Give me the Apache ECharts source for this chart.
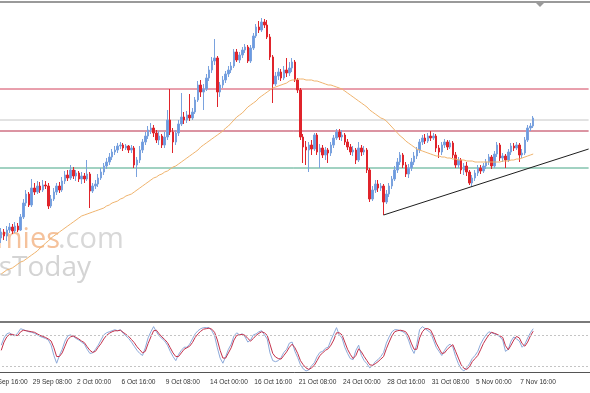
<!DOCTYPE html>
<html><head><meta charset="utf-8">
<script src="https://cdn.jsdelivr.net/npm/echarts@6/dist/echarts.min.js"></script>
<style>html,body{margin:0;padding:0;background:#fff}#c{width:590px;height:393px}</style>
</head><body><div id="c"></div>
<script>
// ---------- DATA ----------
const tickLabels = ['26 Sep 16:00','29 Sep 08:00','2 Oct 00:00','6 Oct 16:00','9 Oct 08:00','14 Oct 00:00','16 Oct 16:00','21 Oct 08:00','24 Oct 00:00','28 Oct 16:00','31 Oct 08:00','5 Nov 00:00','7 Nov 16:00'];
const barsPerLabel = 16;   // H4 bars between time labels
const leadBars = 5;        // bars between the first label and the first visible candle
const emptyBarsRight = 20; // empty bars (chart shift) on the right

// H4 candles: [open, close, low, high]
const ohlc = [
[62,68,57,72],[68,64,60,71],[64,70,59,74],[70,73,67,77],[73,69,66,76],[69,74,67,78],[74,70,68,77],[70,83,69,86],[83,97,81,101],[97,106,94,110],
[106,95,93,108],[95,112,93,121],[112,108,105,117],[108,114,106,119],[114,110,107,118],[110,115,108,120],[115,114,111,119],[114,94,91,117],[94,101,92,105],[101,108,99,112],
[108,114,105,117],[114,110,107,118],[110,119,108,123],[119,125,116,129],[125,122,119,130],[122,130,120,135],[130,124,121,133],[124,127,119,130],[127,121,118,129],[121,124,116,128],
[124,121,117,127],[121,126,119,140],[126,109,92,128],[109,114,107,117],[114,116,111,120],[116,122,113,126],[122,128,120,132],[128,134,125,137],[134,138,131,142],[138,143,135,147],
[143,148,140,151],[148,150,145,154],[150,154,147,157],[154,155,151,158],[155,152,149,157],[152,154,150,156],[154,150,147,155],[150,152,147,155],[152,135,132,154],[135,140,123,143],
[140,150,137,154],[150,158,147,161],[158,164,155,168],[164,170,161,174],[170,172,166,177],[172,167,163,175],[167,160,157,170],[160,164,155,169],[164,155,152,166],[155,163,152,168],
[163,180,160,190],[180,168,165,211],[168,158,147,172],[158,167,155,170],[167,176,164,180],[176,183,174,207],[183,180,176,188],[180,185,177,189],[185,182,179,206],[182,188,180,192],
[188,200,186,203],[200,215,198,219],[215,208,203,220],[208,211,190,216],[211,222,209,226],[222,230,219,234],[230,239,227,243],[239,242,235,261],[242,208,193,244],[208,215,203,218],
[215,220,212,224],[220,226,217,229],[226,230,223,234],[230,234,227,238],[234,248,232,251],[248,240,238,251],[240,245,237,248],[245,250,242,253],[250,253,247,256],[253,239,237,255],
[239,252,237,255],[252,264,250,267],[264,273,262,276],[273,270,267,279],[270,278,268,282],[278,275,272,281],[275,263,261,280],[263,243,240,266],[243,216,197,245],[216,224,214,228],
[224,228,220,232],[228,222,219,231],[222,230,220,234],[230,227,223,242],[227,232,224,238],[232,238,228,242],[238,220,218,240],[220,210,207,222],[210,163,160,212],[163,153,137,166],
[153,150,135,159],[150,155,128,158],[155,151,145,160],[151,165,149,167],[165,148,145,167],[148,152,132,156],[152,145,142,155],[145,150,140,153],[150,147,137,152],[147,155,144,158],
[155,162,152,165],[162,168,160,171],[168,163,160,171],[163,165,159,170],[165,158,155,167],[158,153,150,161],[153,148,145,156],[148,150,144,154],[150,140,136,152],[140,152,138,158],
[152,148,144,155],[148,150,145,154],[150,130,127,152],[130,101,98,132],[101,110,99,114],[110,116,107,120],[116,112,108,120],[112,114,109,117],[114,98,85,116],[98,106,96,110],
[106,114,103,117],[114,121,111,124],[121,130,119,134],[130,138,127,142],[138,145,135,148],[145,135,132,147],[135,126,123,138],[126,132,122,136],[132,138,129,142],[138,144,135,148],
[144,150,141,153],[150,158,147,161],[158,162,155,165],[162,159,156,166],[159,164,157,167],[164,162,159,169],[162,164,160,167],[164,152,148,166],[152,148,142,155],[148,155,145,158],
[155,158,152,161],[158,153,150,160],[153,157,151,160],[157,145,142,159],[145,135,132,148],[135,140,132,143],[140,130,126,142],[130,134,125,137],[134,128,124,138],[128,117,115,130],
[117,122,113,125],[122,127,119,130],[127,132,124,135],[132,129,126,135],[129,134,127,137],[134,138,131,141],[138,143,135,146],[143,134,131,145],[134,146,132,149],[146,155,143,158],
[155,142,139,157],[142,144,138,147],[144,140,132,146],[140,148,138,151],[148,154,145,157],[154,152,149,157],[152,155,150,158],[155,145,138,157],[145,147,142,151],[147,160,145,163],
[160,172,158,175],[172,174,169,177],[174,182,172,184]
];

// moving average, one value per candle
const ma = [
26,28,30,31,32,34,36,38,39,41, 43,45,47,49,52,54,57,59,62,64,
66,68,70,72,74,76,78,80,82,84, 85,86,87,88,89,90,91,92,94,95,
97,98,99,101,102,104,105,106,108,110, 112,114,116,118,120,122,123,125,126,128,
129,131,133,134,136,138,140,142,144,146, 148,150,153,155,157,159,161,163,165,167,
169,172,174,177,180,183,185,187,190,193, 195,197,199,202,204,206,208,210,212,213,
214,215,216,217,219,220,220,221,221,221, 220,220,220,219,219,218,217,216,215,215,
214,213,212,211,209,207,205,203,201,199, 197,195,193,190,188,186,184,182,181,179,
176,173,170,167,164,162,159,157,155,153, 151,150,149,148,147,146,145,144,144,143,
143,142,142,141,141,140,140,140,139,139, 139,138,138,138,138,138,138,138,138,138,
138,139,139,139,140,140,141,141,142,143, 144,145,146
];

// stochastic oscillator %K and %D
const stochK = [
60,74,82,84,80,78,84,92,90,88, 86,85,83,80,77,75,73,70,60,40,
25,40,52,68,78,80,77,73,70,66, 62,52,44,45,52,60,70,80,84,86,
88,90,88,90,83,78,73,66,58,50, 44,40,55,74,86,96,86,78,73,68,
60,48,38,30,42,50,56,56,62,72, 82,88,92,94,94,94,88,78,55,35,
25,38,52,62,78,84,80,82,76,66, 70,80,82,86,88,80,72,45,30,28,
30,36,46,52,64,66,48,36,22,14, 10,12,20,26,38,46,48,54,56,70,
82,94,80,74,56,44,34,32,50,60, 40,30,24,16,20,28,32,38,46,64,
76,86,90,90,88,86,82,70,54,44, 62,90,96,92,88,84,70,56,48,40,
50,58,62,56,38,24,14,10,16,24, 34,40,48,62,72,80,86,84,82,80,
76,70,48,52,68,76,72,68,56,62, 74,84,92
];
const stochD = [
50,66,76,81,81,79,79,86,89,88, 87,86,85,82,79,77,75,72,68,55,
38,38,45,58,71,76,78,75,72,68, 65,57,50,46,48,56,63,72,79,83,
86,88,88,89,85,81,77,71,65,57, 51,45,48,63,76,88,89,82,76,71,
65,55,45,38,38,45,52,55,58,65, 75,82,87,91,92,93,91,85,70,50,
35,35,45,55,70,79,80,81,79,73, 68,73,79,83,86,84,79,62,44,37,
34,33,40,47,56,62,55,44,30,22, 16,13,16,21,30,40,45,50,53,60,
70,84,84,80,66,52,42,34,40,53, 47,38,30,22,21,24,28,33,38,53,
66,78,86,88,89,88,86,78,64,52, 52,74,86,92,92,89,78,64,54,44,
45,52,57,61,48,35,22,15,13,18, 28,34,40,51,63,72,80,85,83,81,
78,75,59,51,60,70,77,74,63,58, 66,78,87
];
const stochLevels = [80, 20];

// horizontal price levels (top red, grey, lower red, green)
const levelPrices = [211, 180, 169, 132];
// trend line anchors: [candle index, price]
const trendLine = [[138, 85], [212, 151]];

// ---------- CHART ----------
const N = leadBars + ohlc.length + emptyBarsRight;
const cats = Array.from({length: N}, (_, k) => String(k));
const levelColors = ['#d2405a', '#c6c6c6', '#b82a46', '#45a585'];
const chart = echarts.init(document.getElementById('c'), null, {renderer: 'canvas'});
const font = "'Liberation Sans', Arial, sans-serif";

const levelSeries = levelPrices.map((p, k) => ({
  type: 'line', xAxisIndex: 0, yAxisIndex: 0, symbol: 'none', z: 1, silent: true,
  color: levelColors[k],
  itemStyle: {color: levelColors[k]},
  lineStyle: {color: levelColors[k], width: 1, type: 'solid'},
  data: [[0, p], [N - 1, p]]
}));

chart.setOption({
  animation: false,
  backgroundColor: '#ffffff',
  grid: [
    {left: -14, right: 0, top: 3, height: 317, outerBoundsMode: 'none', containLabel: false},
    {left: -14, right: 0, top: 323, height: 49, outerBoundsMode: 'none', containLabel: false}
  ],
  xAxis: [
    {type: 'category', data: cats, gridIndex: 0, show: false, boundaryGap: true},
    {type: 'category', data: cats, gridIndex: 1, boundaryGap: true,
     axisLine: {lineStyle: {color: '#555', width: 1}},
     axisTick: {interval: barsPerLabel - 1, alignWithLabel: true, length: 4, lineStyle: {color: '#555'}},
     axisLabel: {interval: barsPerLabel - 1, align: 'left', margin: 7, fontSize: 6.6, color: '#333',
       fontFamily: font, showMaxLabel: false, showMinLabel: true, hideOverlap: false, padding: [0, 0, 0, 1],
       formatter: (v, idx) => (idx % barsPerLabel === 0 && tickLabels[idx / barsPerLabel]) ? tickLabels[idx / barsPerLabel] : ''},
     splitLine: {show: false}}
  ],
  yAxis: [
    {type: 'value', gridIndex: 0, min: -20, max: 297, show: false, splitLine: {show: false}},
    {type: 'value', gridIndex: 1, min: 8, max: 103, show: false, splitLine: {show: false}}
  ],
  graphic: [
    {type: 'text', z: -10, x: 60, y: 240, style: {text: 'Economies', fill: '#f5c29c', font: "29px 'Open Sans', sans-serif", align: 'right', verticalAlign: 'middle'}},
    {type: 'text', z: -10, x: 58, y: 240, style: {text: '.com', fill: '#d8d8d8', font: "29px 'Open Sans', sans-serif", align: 'left', verticalAlign: 'middle'}},
    {type: 'text', z: -10, x: 91, y: 268, style: {text: 'NewsToday', fill: '#d4d4d4', font: "28px 'Open Sans', sans-serif", align: 'right', verticalAlign: 'middle'}},
    {type: 'rect', z: 100, shape: {x: 0, y: 1, width: 590, height: 2}, style: {fill: '#9a9a9a'}},
    {type: 'polygon', z: 100, shape: {points: [[536, 3], [544, 3], [540, 7]]}, style: {fill: '#9a9a9a'}},
    {type: 'rect', z: 100, shape: {x: 0, y: 321, width: 590, height: 2}, style: {fill: '#7a7a7a'}}
  ],
  series: levelSeries.concat([
    {type: 'candlestick', xAxisIndex: 0, yAxisIndex: 0, barWidth: 2, z: 2,
     data: ohlc.map((r, i) => [i + leadBars, r[0], r[1], r[2], r[3]]),
     encode: {x: 0, y: [1, 2, 3, 4]},
     itemStyle: {color: '#6a9ae3', color0: '#e0242b', borderColor: '#7aa2de', borderColor0: '#e0242b', borderWidth: 1}
    },
    {type: 'line', xAxisIndex: 0, yAxisIndex: 0, symbol: 'none', z: 3,
     data: ma.map((v, i) => [i + leadBars, v]),
     lineStyle: {color: '#f0b46e', width: 1}},
    {type: 'line', xAxisIndex: 0, yAxisIndex: 0, symbol: 'none', z: 3,
     data: trendLine.map(p => [p[0] + leadBars, p[1]]),
     lineStyle: {color: '#1e1e1e', width: 1}},
    {type: 'line', xAxisIndex: 1, yAxisIndex: 1, symbol: 'none',
     data: stochK.map((v, i) => [i + leadBars, v]),
     lineStyle: {color: '#8ca9d9', width: 1},
     markLine: {silent: true, symbol: ['none', 'none'], label: {show: false},
       data: stochLevels.map(l => ({yAxis: l})), lineStyle: {color: '#c4c4c4', width: 1, type: [2, 2]}}},
    {type: 'line', xAxisIndex: 1, yAxisIndex: 1, symbol: 'none',
     data: stochD.map((v, i) => [i + leadBars, v]),
     lineStyle: {color: '#c4314b', width: 1}}
  ])
});
</script></body></html>
